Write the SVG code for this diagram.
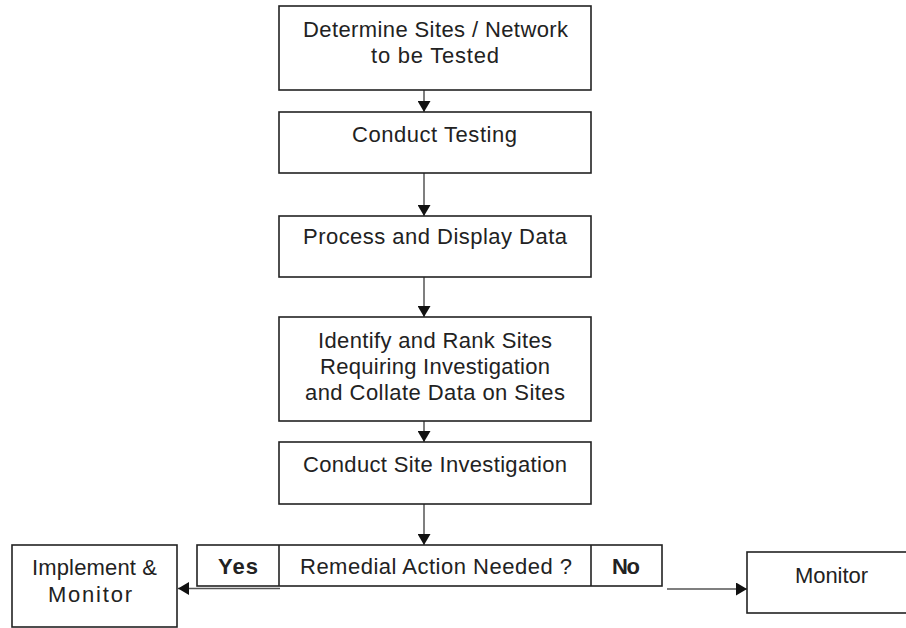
<svg xmlns="http://www.w3.org/2000/svg" width="906" height="628" viewBox="0 0 906 628">
<style>
.box{fill:#fff;stroke:#222;stroke-width:1.6}
.t{font-family:"Liberation Sans",Arial,sans-serif;font-size:22px;fill:#222;text-anchor:middle}
.b{font-weight:bold}
.c{stroke:#555;stroke-width:1.5;fill:none;marker-end:url(#ah)}
</style>
<defs>
<marker id="ah" viewBox="0 0 11 13" refX="11" refY="6.5" markerWidth="11" markerHeight="13" markerUnits="userSpaceOnUse" orient="auto">
<path d="M0,0 L11,6.5 L0,13 Z" fill="#111"/>
</marker>
</defs>
<rect width="906" height="628" fill="#fff"/>
<g id="connectors">
<line class="c" x1="424" y1="90" x2="424" y2="112"/>
<line class="c" x1="424" y1="173" x2="424" y2="216"/>
<line class="c" x1="424" y1="277" x2="424" y2="317"/>
<line class="c" x1="424" y1="421" x2="424" y2="442"/>
<line class="c" x1="424" y1="504" x2="424" y2="545"/>
<line class="c" x1="280" y1="588.5" x2="178" y2="588.5"/>
<line class="c" x1="667" y1="589" x2="747" y2="589"/>
</g>
<g id="n1">
<rect class="box" x="279" y="6" width="312" height="84"/>
<text class="t" x="435.5" y="37" textLength="265">Determine Sites / Network</text>
<text class="t" x="435" y="63" textLength="128">to be Tested</text>
</g>
<g id="n2">
<rect class="box" x="279" y="112" width="312" height="61"/>
<text class="t" x="434.5" y="142" textLength="165">Conduct Testing</text>
</g>
<g id="n3">
<rect class="box" x="279" y="216" width="312" height="61"/>
<text class="t" x="435" y="244" textLength="264">Process and Display Data</text>
</g>
<g id="n4">
<rect class="box" x="279" y="317" width="312" height="104"/>
<text class="t" x="435" y="348" textLength="234">Identify and Rank Sites</text>
<text class="t" x="435" y="374" textLength="230">Requiring Investigation</text>
<text class="t" x="435" y="400" textLength="260">and Collate Data on Sites</text>
</g>
<g id="n5">
<rect class="box" x="279" y="442" width="312" height="62"/>
<text class="t" x="435" y="472" textLength="264">Conduct Site Investigation</text>
</g>
<g id="decision">
<rect class="box" x="197" y="545" width="465" height="41"/>
<line x1="279" y1="545" x2="279" y2="586" stroke="#222" stroke-width="1.6"/>
<line x1="591" y1="545" x2="591" y2="586" stroke="#222" stroke-width="1.6"/>
<text class="t b" x="238" y="574" textLength="40">Yes</text>
<text class="t" x="436" y="574" textLength="272">Remedial Action Needed ?</text>
<text class="t b" x="626" y="574" textLength="28">No</text>
</g>
<g id="implement">
<rect class="box" x="12" y="545" width="165" height="82"/>
<text class="t" x="94.5" y="575" textLength="125">Implement &amp;</text>
<text class="t" x="90" y="602" textLength="84">Monitor</text>
</g>
<g id="monitor">
<rect class="box" x="747" y="552" width="170" height="61"/>
<text class="t" x="831.5" y="583" textLength="73">Monitor</text>
</g>
</svg>
